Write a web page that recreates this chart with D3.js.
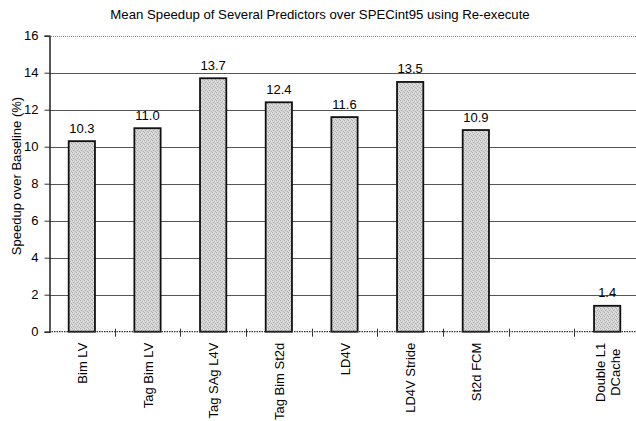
<!DOCTYPE html>
<html>
<head>
<meta charset="utf-8">
<script src="https://cdn.jsdelivr.net/npm/d3@7"></script>
<style>
  html, body { margin: 0; padding: 0; background: #fff; }
  svg { display: block; }
  text { font-family: "Liberation Sans", Arial, sans-serif; fill: #000; }
</style>
</head>
<body>
<script>
const titleText = "Mean Speedup of Several Predictors over SPECint95 using Re-execute";
const yAxisTitle = "Speedup over Baseline (%)";
const categories = ["Bim LV", "Tag Bim LV", "Tag SAg L4V", "Tag Bim St2d", "LD4V", "LD4V Stride", "St2d FCM", "", "Double L1\nDCache"];
const values = [10.3, 11.0, 13.7, 12.4, 11.6, 13.5, 10.9, null, 1.4];
const valueLabels = ["10.3", "11.0", "13.7", "12.4", "11.6", "13.5", "10.9", "", "1.4"];
const yTicks = [0, 2, 4, 6, 8, 10, 12, 14, 16];

const W = 636, H = 421;
const svg = d3.select("body").append("svg").attr("width", W).attr("height", H);

// stipple pattern
const defs = svg.append("defs");
const pat = defs.append("pattern").attr("id", "stip").attr("patternUnits", "userSpaceOnUse")
  .attr("width", 4).attr("height", 4);
pat.append("rect").attr("width", 4).attr("height", 4).attr("fill", "#d6d6d6");
[[0,0,"#a8a8a8"],[2,1,"#b4b4b4"],[1,2,"#aaaaaa"],[3,3,"#b0b0b0"],[3,1,"#e6e6e6"],[1,0,"#e2e2e2"]].forEach(([px,py,c]) => {
  pat.append("rect").attr("x", px).attr("y", py).attr("width", 1).attr("height", 1).attr("fill", c);
});

const keys = categories.map((c, i) => i);
const x = d3.scaleBand().domain(keys).range([49, 640]).paddingInner(0.6).paddingOuter(0.3);
const y = d3.scaleLinear().domain([0, 16]).range([331.7, 35.7]);

// title
svg.append("text").attr("x", 320).attr("y", 18.5).attr("text-anchor", "middle")
  .style("font-size", "13.2px").text(titleText);

// gridlines
svg.append("g").selectAll("line").data(yTicks.filter(t => t > 0)).join("line")
  .attr("x1", 49).attr("x2", 640)
  .attr("y1", d => Math.round(y(d)) + 0.5).attr("y2", d => Math.round(y(d)) + 0.5)
  .attr("stroke", d => d === 16 ? "#888" : "#555")
  .attr("stroke-width", d => d === 16 ? 1 : 1.1)
  .attr("stroke-dasharray", d => d === 16 ? "1,1" : null);

// y axis
const yAxis = d3.axisLeft(y).tickValues(yTicks).tickSize(5).tickPadding(6).tickFormat(d3.format("d"));
const gy = svg.append("g").attr("transform", "translate(49.5,0)").call(yAxis);
gy.select(".domain").attr("stroke", "#222").attr("stroke-width", 1.5);
gy.selectAll(".tick line").attr("stroke", "#333");
gy.selectAll(".tick text").style("font-size", "13px").style("font-family", "Liberation Sans, Arial, sans-serif").attr("fill", "#000");

// y axis title
svg.append("text").attr("transform", `translate(21,176) rotate(-90)`)
  .attr("text-anchor", "middle").style("font-size", "13px").text(yAxisTitle);

// bars
const data = keys.map(i => ({ i, v: values[i], lab: valueLabels[i] })).filter(d => d.v != null);
svg.append("g").selectAll("rect").data(data).join("rect")
  .attr("x", d => x(d.i)).attr("width", x.bandwidth())
  .attr("y", d => y(d.v)).attr("height", d => y(0) - y(d.v))
  .attr("fill", "url(#stip)").attr("stroke", "#111").attr("stroke-width", 1.8);

// value labels
svg.append("g").selectAll("text").data(data).join("text")
  .attr("x", d => x(d.i) + x.bandwidth() / 2).attr("y", d => y(d.v) - 8.5)
  .attr("text-anchor", "middle").style("font-size", "13px").text(d => d.lab);

// x axis (dotted) with ticks
svg.append("line").attr("x1", 49).attr("x2", 640).attr("y1", y(0)).attr("y2", y(0))
  .attr("stroke", "#333").attr("stroke-width", 1.2).attr("stroke-dasharray", "1.5,1");
const bounds = keys.slice(1).map(i => x(i) - x.step() * x.paddingInner() / 2);
bounds.push(640);
svg.append("g").selectAll("line").data(bounds).join("line")
  .attr("x1", d => Math.round(d) + 0.5).attr("x2", d => Math.round(d) + 0.5)
  .attr("y1", y(0) - 3).attr("y2", y(0) + 5).attr("stroke", "#333").attr("stroke-width", 1);

// category labels (rotated)
const gl = svg.append("g");
keys.forEach(i => {
  const lines = categories[i].split("\n").filter(s => s.length);
  if (!lines.length) return;
  const cx = x(i) + x.bandwidth() / 2;
  const lh = 15;
  const n = lines.length;
  const topY = y(0) + 11;
  const texts = lines.map((s, k) => {
    return gl.append("text").style("font-size", "13px").text(s).attr("text-anchor", "middle");
  });
  const lens = texts.map(t => t.node().getComputedTextLength());
  const maxLen = d3.max(lens);
  const centerY = topY + maxLen / 2;
  texts.forEach((t, k) => {
    const xx = cx + (k - (n - 1) / 2) * lh + 5;
    t.attr("transform", `translate(${xx},${centerY}) rotate(-90)`);
  });
});
</script>
</body>
</html>
